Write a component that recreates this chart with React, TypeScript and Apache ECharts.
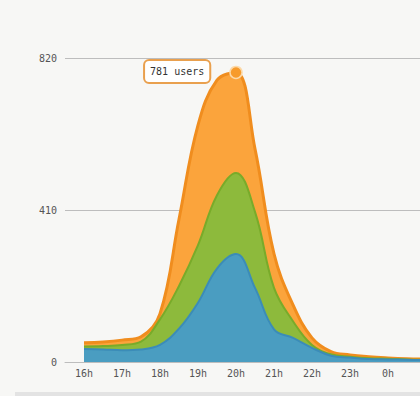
import React, { useEffect, useRef } from "react";
import * as echarts from "echarts";

const hours = [16, 16.5, 17, 17.5, 18, 18.5, 19, 19.5, 20, 20.5, 21, 21.5, 22, 22.5, 23, 23.5, 24, 24.5, 25];
const tickHours = [16, 17, 18, 19, 20, 21, 22, 23, 24];
const blueValues = [35, 34, 32, 34, 46, 90, 160, 252, 291, 200, 88, 65, 38, 17, 12, 8, 7, 6, 5];
const greenValues = [7, 9, 14, 21, 69, 115, 155, 198, 219, 205, 112, 45, 8, 4, 2, 2, 2, 1, 1];
const orangeValues = [10, 11, 13, 13, 15, 180, 324, 310, 271, 170, 92, 44, 19, 7, 5, 4, 2, 2, 2];
const peakHour = 20;
const peakTotal = 781;
const yTicks = [0, 410, 820];

const FONT = "DejaVu Sans Mono";

export default function App() {
  const ref = useRef<HTMLDivElement>(null);
  useEffect(() => {
    if (!ref.current) return;
    const chart = echarts.init(ref.current, null, { renderer: "svg" });
    // cumulative stacks computed from the layers
    const blueTop = blueValues.map((v) => v);
    const greenTop = greenValues.map((v, i) => v + blueTop[i]);
    const orangeTop = orangeValues.map((v, i) => v + greenTop[i]);
    const pairs = (vals: number[]) => vals.map((v, i) => [hours[i], v]);
    const mkSeries = (name: string, vals: number[], line: string, fill: string, lw: number, z: number) => ({
      name,
      type: "line",
      smooth: 0.4,
      symbol: "none",
      data: pairs(vals),
      lineStyle: { color: line, width: lw },
      areaStyle: { color: fill, opacity: 1 },
      itemStyle: { color: fill },
      z,
    });
    const orange: any = mkSeries("orange", orangeTop, "#f08d1e", "#fba43c", 3, 2);
    orange.markPoint = {
      data: [{ coord: [peakHour, peakTotal], value: peakTotal }],
      symbol: "circle",
      symbolSize: 12,
      z: 10,
      itemStyle: { color: "#f79b2c", borderColor: "#fcd9a8", borderWidth: 1.5 },
      label: {
        show: true,
        position: "left",
        distance: 20,
        formatter: (p: any) => `${p.value} users`,
        fontFamily: FONT,
        fontSize: 10,
        color: "#333",
        backgroundColor: "#ffffff",
        borderColor: "#e9a04e",
        borderWidth: 2,
        borderRadius: 4,
        padding: [6, 5, 5, 5],
        offset: [0, -1],
      },
    };
    chart.setOption({
      animation: false,
      backgroundColor: "#f7f7f5",
      grid: { left: 65, right: 0, top: 58, bottom: 34, containLabel: false },
      xAxis: {
        type: "value",
        min: 15.5,
        max: 15.5 + 355 / 38,
        axisLine: { show: true, lineStyle: { color: "#bdbdbd" } },
        axisTick: { show: false },
        splitLine: { show: false },
        axisLabel: {
          customValues: tickHours,
          formatter: (v: number) => `${v % 24}h`,
          fontFamily: FONT,
          fontSize: 10,
          color: "#555",
          margin: 6,
        },
      },
      yAxis: {
        type: "value",
        min: 0,
        max: 820,
        interval: 410,
        axisLine: { show: false },
        axisTick: { show: false },
        splitLine: { show: true, lineStyle: { color: "#bdbdbd", width: 1 } },
        axisLabel: {
          customValues: yTicks,
          fontFamily: FONT,
          fontSize: 10,
          color: "#555",
          margin: 8,
        },
      },
      graphic: [
        {
          type: "rect",
          left: 15,
          top: 392,
          shape: { width: 405, height: 4 },
          style: { fill: "#e3e3e3" },
        },
      ],
      series: [
        orange,
        mkSeries("green", greenTop, "#78ab2a", "#8dba3c", 2, 3),
        mkSeries("blue", blueTop, "#3b8cb8", "#4a9dc1", 2, 4),
      ],
    });
    return () => chart.dispose();
  }, []);
  return (
    <div style={{ position: "fixed", left: 0, top: 0, width: 420, height: 396, overflow: "hidden" }}>
      <div ref={ref} style={{ width: 420, height: 396 }} />
    </div>
  );
}
